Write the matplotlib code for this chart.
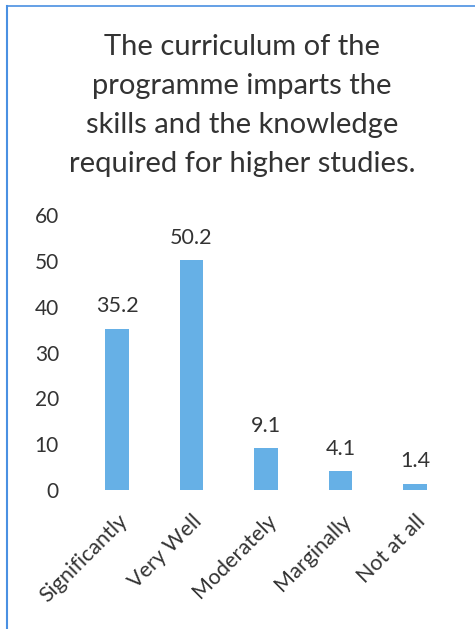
import matplotlib.pyplot as plt
from matplotlib.lines import Line2D

categories = ["Significantly", "Very Well", "Moderately", "Marginally", "Not at all"]
values = [35.2, 50.2, 9.1, 4.1, 1.4]
value_labels = ["35.2", "50.2", "9.1", "4.1", "1.4"]
yticks = [0, 10, 20, 30, 40, 50, 60]
title = "The curriculum of the\nprogramme imparts the\nskills and the knowledge\nrequired for higher studies."

plt.rcParams['font.family'] = ['Lato', 'DejaVu Sans']
txt = '#333333'
bar_color = '#66b0e6'

fig = plt.figure(figsize=(4.75, 6.29), dpi=100)
ax = fig.add_axes([0.168, 0.221, 0.784, 0.437])

x = [i + 0.5 for i in range(len(categories))]
ax.bar(x, values, width=0.31, color=bar_color)
for xi, v, lab in zip(x, values, value_labels):
    ax.annotate(lab, (xi, v), xytext=(0, 9), textcoords='offset points',
                ha='center', va='bottom', fontsize=15.5, color=txt)

ax.set_xlim(0, 5)
ax.set_ylim(0, 60)
ax.set_yticks(yticks)
ax.set_yticklabels([str(t) for t in yticks], fontsize=15, color=txt)
ax.set_xticks(x)
ax.set_xticklabels(categories, rotation=45, ha='right', rotation_mode='anchor',
                   fontsize=15.5, color=txt)
ax.tick_params(axis='y', length=0, pad=15)
ax.tick_params(axis='x', length=0, pad=15)
for s in ax.spines.values():
    s.set_visible(False)

fig.text(0.51, 0.946, title, ha='center', va='top', fontsize=21,
         color=txt, linespacing=1.62)

# chart border from the scan
fig.add_artist(Line2D([0.015, 0.015], [0, 0.99], color='#4a90e2', lw=1.5,
                      transform=fig.transFigure))
fig.add_artist(Line2D([0.015, 1.0], [0.99, 0.99], color='#4a90e2', lw=1.2,
                      transform=fig.transFigure))

fig.savefig('out.png', dpi=100)
